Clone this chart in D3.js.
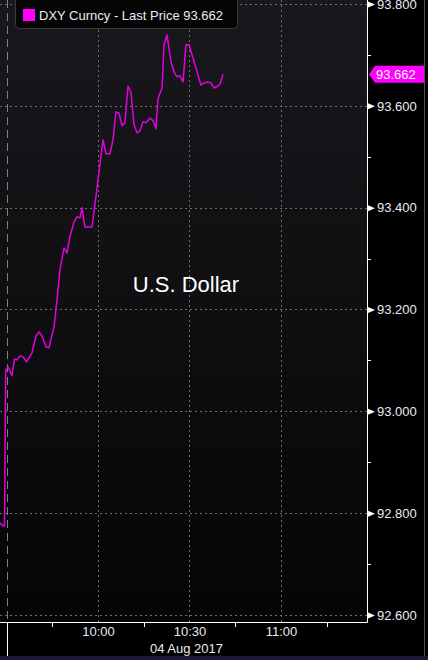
<!DOCTYPE html>
<html>
<head>
<meta charset="utf-8">
<script src="https://cdn.jsdelivr.net/npm/d3@7"></script>
<style>
body { margin: 0; background: #000; }
svg { display: block; font-family: "Liberation Sans", Arial, sans-serif; }
</style>
</head>
<body>
<div id="root"></div>
<script>
// data
var times = ["09:27:52","09:28:51","09:29:20","09:29:44","09:30:30","09:31:48","09:32:37","09:33:26",
  "09:34:26","09:35:25","09:36:33","09:38:22","09:39:40","09:40:39","09:41:38","09:42:57","09:43:56",
  "09:45:34","09:46:33","09:47:32","09:48:51","09:49:50","09:50:49","09:52:08","09:53:07","09:54:06",
  "09:54:45","09:55:44","09:58:02","09:59:01","10:00:00","10:01:38","10:02:37","10:03:56","10:04:55",
  "10:05:54","10:06:53","10:07:52","10:08:51","10:09:50","10:10:49","10:11:48","10:12:47","10:13:46",
  "10:14:45","10:15:44","10:17:03","10:18:02","10:19:01","10:19:40","10:20:59","10:21:38","10:22:37",
  "10:23:56","10:24:55","10:25:54","10:26:53","10:27:52","10:28:51","10:29:50","10:31:09","10:32:28",
  "10:33:46","10:34:45","10:36:04","10:37:03","10:38:02","10:39:20","10:40:00","10:40:59"];
var prices = [92.781,92.775,92.775,93.081,93.087,93.070,93.103,93.101,
  93.109,93.107,93.097,93.115,93.148,93.156,93.148,93.127,93.125,
  93.166,93.219,93.278,93.321,93.311,93.343,93.372,93.382,93.380,
  93.400,93.362,93.362,93.407,93.455,93.533,93.506,93.506,93.533,
  93.588,93.586,93.561,93.567,93.639,93.626,93.563,93.547,93.551,
  93.569,93.567,93.576,93.571,93.555,93.614,93.635,93.720,93.739,
  93.686,93.667,93.657,93.659,93.647,93.720,93.720,93.694,93.667,
  93.641,93.645,93.647,93.645,93.635,93.639,93.643,93.662];

var yTicks = [92.6, 92.8, 93.0, 93.2, 93.4, 93.6, 93.8];
var yMinor = [92.7, 92.9, 93.1, 93.3, 93.5, 93.7];
var xTicks = ["10:00", "10:30", "11:00"];
var xMinor = ["09:45", "10:15", "10:45", "11:15"];
var sessionStart = "09:30";
var xStart = "09:27:52", xEnd = "11:28:12";
var lastPrice = 93.662;
var legendLabel = "DXY Curncy - Last Price";
var dateLabel = "04 Aug 2017";
var title = "U.S. Dollar";

// layout
var width = 428, height = 660,
    plotW = 367, plotH = 622;

var parseT = d3.timeParse("%H:%M:%S"),
    parseHM = d3.timeParse("%H:%M");

var data = times.map(function (t, i) { return {t: parseT(t), v: prices[i]}; });

var svg = d3.select("#root")
  .append("svg")
  .attr("width", width)
  .attr("height", height);

var grad = svg.append("defs").append("linearGradient")
  .attr("id", "bg").attr("x1", 0).attr("y1", 0).attr("x2", 0).attr("y2", 1);
grad.append("stop").attr("offset", "0%").attr("stop-color", "#19191d");
grad.append("stop").attr("offset", "100%").attr("stop-color", "#050507");

svg.append("rect").attr("width", width).attr("height", height).attr("fill", "#000");
svg.append("rect").attr("width", plotW).attr("height", plotH).attr("fill", "url(#bg)");
svg.append("rect").attr("y", 656).attr("width", width).attr("height", 4).attr("fill", "#181a3a");
svg.append("line")
  .attr("x1", 424.5).attr("x2", 424.5).attr("y1", 0).attr("y2", 656)
  .attr("stroke", "#4a4a4a");

// scales
var x = d3.scaleTime()
  .domain([parseT(xStart), parseT(xEnd)])
  .range([0, plotW]);

var y = d3.scaleLinear()
  .domain([92.6, 93.8])
  .range([615, 4]);

// grid
svg.append("g")
  .selectAll("line")
  .data(yTicks)
  .enter()
  .append("line")
    .attr("x1", 0).attr("x2", plotW)
    .attr("y1", function (d) { return Math.round(y(d)) + 0.5; })
    .attr("y2", function (d) { return Math.round(y(d)) + 0.5; })
    .attr("stroke", "#6e6e6e")
    .attr("stroke-dasharray", "2,3");

svg.append("g")
  .selectAll("line")
  .data(xTicks)
  .enter()
  .append("line")
    .attr("x1", function (d) { return Math.round(x(parseHM(d))) + 0.5; })
    .attr("x2", function (d) { return Math.round(x(parseHM(d))) + 0.5; })
    .attr("y1", 0).attr("y2", plotH)
    .attr("stroke", "#6e6e6e")
    .attr("stroke-dasharray", "2,3");

// session start marker
var xs = Math.round(x(parseHM(sessionStart))) + 0.5;
svg.append("line")
  .attr("x1", xs).attr("x2", xs).attr("y1", 0).attr("y2", plotH)
  .attr("stroke", "#808080")
  .attr("stroke-dasharray", "8,5");
svg.append("line")
  .attr("x1", xs).attr("x2", xs).attr("y1", plotH).attr("y2", 656)
  .attr("stroke", "#fff");

// price line
svg.append("path")
  .datum(data)
  .attr("fill", "none")
  .attr("stroke", "#e100e1")
  .attr("stroke-width", 1.5)
  .attr("stroke-linejoin", "round")
  .attr("d", d3.line()
    .x(function (d) { return x(d.t); })
    .y(function (d) { return y(d.v); }));

// axis frame
svg.append("line")
  .attr("x1", plotW + 0.5).attr("x2", plotW + 0.5).attr("y1", 0).attr("y2", plotH + 0.5)
  .attr("stroke", "#fff");
svg.append("line")
  .attr("x1", 0).attr("x2", plotW + 0.5).attr("y1", plotH + 0.5).attr("y2", plotH + 0.5)
  .attr("stroke", "#fff");

// y axis
var yAxis = svg.append("g")
  .attr("transform", "translate(" + plotW + ",0)")
  .call(d3.axisRight(y).tickValues(yTicks).tickFormat(d3.format(".3f")).tickSize(0).tickPadding(10));
yAxis.select(".domain").remove();
yAxis.selectAll("text")
  .attr("fill", "#e6ecf2")
  .style("font-size", "13px")
  .style("font-family", "'Liberation Sans', Arial, sans-serif");
yAxis.selectAll(".tick")
  .append("path")
  .attr("d", "M1,-3L8,0L1,3Z")
  .attr("fill", "#fff");

svg.append("g")
  .selectAll("line")
  .data(yMinor)
  .enter()
  .append("line")
    .attr("x1", plotW).attr("x2", plotW + 4)
    .attr("y1", function (d) { return Math.round(y(d)) + 0.5; })
    .attr("y2", function (d) { return Math.round(y(d)) + 0.5; })
    .attr("stroke", "#fff");

// x axis
var xAxis = svg.append("g")
  .attr("transform", "translate(0," + plotH + ")")
  .call(d3.axisBottom(x).tickValues(xTicks.map(parseHM)).tickFormat(d3.timeFormat("%H:%M")).tickSize(0).tickPadding(5));
xAxis.select(".domain").remove();
xAxis.selectAll("text")
  .attr("fill", "#e6ecf2")
  .style("font-size", "13px")
  .style("font-family", "'Liberation Sans', Arial, sans-serif");

svg.append("g")
  .selectAll("line")
  .data(xMinor)
  .enter()
  .append("line")
    .attr("x1", function (d) { return Math.round(x(parseHM(d))) + 0.5; })
    .attr("x2", function (d) { return Math.round(x(parseHM(d))) + 0.5; })
    .attr("y1", plotH).attr("y2", plotH + 5)
    .attr("stroke", "#fff");

svg.append("text")
  .attr("x", x(parseHM("10:30")) - 3)
  .attr("y", 653)
  .attr("text-anchor", "middle")
  .attr("fill", "#e6ecf2")
  .style("font-size", "13px")
  .text(dateLabel);

// last price tag
var yl = y(lastPrice);
svg.append("path")
  .attr("d", "M369," + yl + "L375," + (yl - 8.5) + "L424," + (yl - 8.5) + "L424," + (yl + 8.5) + "L375," + (yl + 8.5) + "Z")
  .attr("fill", "#ff00ff");
svg.append("text")
  .attr("x", 376)
  .attr("y", yl + 4.5)
  .attr("fill", "#fff")
  .style("font-size", "13px")
  .text(d3.format(".3f")(lastPrice));

// legend
svg.append("rect")
  .attr("x", 15.5).attr("y", -6).attr("width", 222).attr("height", 34.5).attr("rx", 4)
  .attr("fill", "#050505")
  .attr("stroke", "#3a3a3a");
svg.append("rect")
  .attr("x", 23).attr("y", 9).attr("width", 12).attr("height", 12)
  .attr("fill", "#ff00ff");
svg.append("text")
  .attr("x", 39).attr("y", 20)
  .attr("fill", "#e6ecf2")
  .style("font-size", "13px")
  .text(legendLabel + " " + d3.format(".3f")(lastPrice));

// title
svg.append("text")
  .attr("x", 186).attr("y", 292)
  .attr("text-anchor", "middle")
  .attr("fill", "#fff")
  .style("font-size", "22px")
  .text(title);
</script>
</body>
</html>
